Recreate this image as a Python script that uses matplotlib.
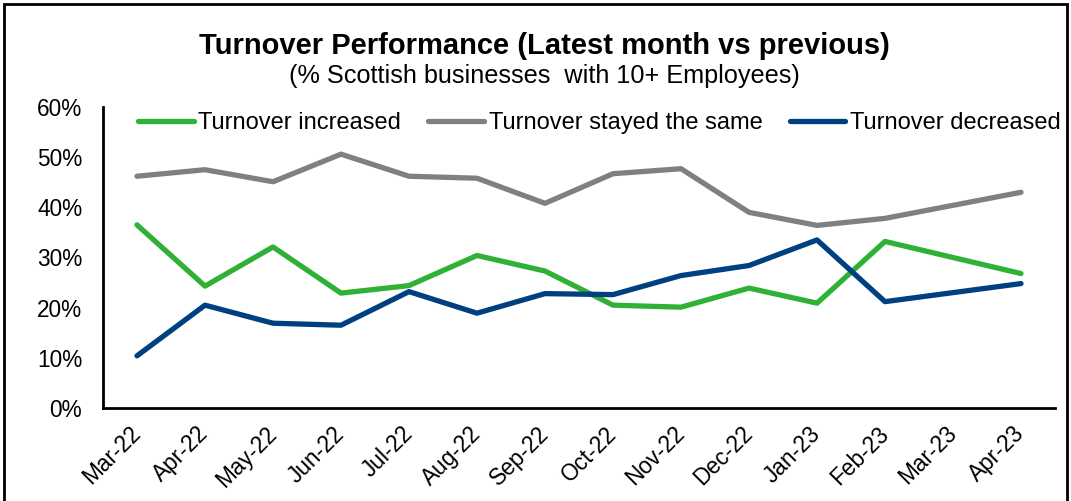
import numpy as np
import matplotlib
matplotlib.use('Agg')
import matplotlib.pyplot as plt
from matplotlib.patches import Rectangle
from matplotlib.ticker import FuncFormatter

# Dati (Mar-23 mancante: la linea collega Feb-23 ad Apr-23)
months = ['Mar-22', 'Apr-22', 'May-22', 'Jun-22', 'Jul-22', 'Aug-22', 'Sep-22',
          'Oct-22', 'Nov-22', 'Dec-22', 'Jan-23', 'Feb-23', 'Mar-23', 'Apr-23']
increased = [36.5, 24.3, 32.1, 22.9, 24.4, 30.4, 27.3, 20.5, 20.1, 23.9, 20.9, 33.2, np.nan, 26.8]
same = [46.2, 47.5, 45.1, 50.6, 46.2, 45.8, 40.8, 46.7, 47.7, 39.0, 36.4, 37.8, np.nan, 43.0]
decreased = [10.4, 20.5, 16.9, 16.5, 23.2, 18.9, 22.8, 22.6, 26.4, 28.4, 33.5, 21.2, np.nan, 24.8]

series = [
    ('Turnover increased', increased, '#2EB135'),
    ('Turnover stayed the same', same, '#808080'),
    ('Turnover decreased', decreased, '#004080'),
]

plt.rcParams['font.family'] = ['Liberation Sans', 'DejaVu Sans']

fig = plt.figure(figsize=(10.71, 5.01), dpi=100)
ax = fig.add_axes([103 / 1071, 1 - 408 / 501, (1055 - 103) / 1071, (408 - 107) / 501])

x = np.arange(len(months))
for label, vals, color in series:
    v = np.array(vals, dtype=float)
    ok = ~np.isnan(v)
    ax.plot(x[ok], v[ok], color=color, lw=3.8, label=label,
            solid_capstyle='round', solid_joinstyle='round')

ax.set_xlim(-0.5, len(months) - 0.5)
ax.set_ylim(0, 60)
ax.set_yticks(np.arange(0, 61, 10))
ax.yaxis.set_major_formatter(FuncFormatter(lambda v, _: f'{v:.0f}%'))
ax.set_xticks(x)
ax.set_xticklabels(months, rotation=45, ha='right', va='center', rotation_mode='anchor')
ax.tick_params(axis='both', length=0, labelsize=16.3)
ax.tick_params(axis='y', pad=15)
ax.tick_params(axis='x', pad=16)

for s in ['top', 'right']:
    ax.spines[s].set_visible(False)
for s in ['left', 'bottom']:
    ax.spines[s].set_linewidth(2)
    ax.spines[s].set_color('black')

ax.legend(loc='center left', bbox_to_anchor=(0.037, 0.947), ncol=3, frameon=False,
          fontsize=17, handlelength=2.35, handletextpad=0.2, columnspacing=1.15,
          borderaxespad=0, borderpad=0)

fig.text(0.508, 1 - 46 / 501, 'Turnover Performance (Latest month vs previous)',
         ha='center', va='center', fontsize=21, fontweight='bold')
fig.text(0.508, 1 - 76 / 501, '(% Scottish businesses  with 10+ Employees)',
         ha='center', va='center', fontsize=18.2)

# bordo del grafico
fig.patches.append(Rectangle((4 / 1071, -0.1), 1063 / 1071, 1.1 - 4 / 501,
                             transform=fig.transFigure, fill=False,
                             edgecolor='black', lw=2))

fig.savefig('out.png', dpi=100)
